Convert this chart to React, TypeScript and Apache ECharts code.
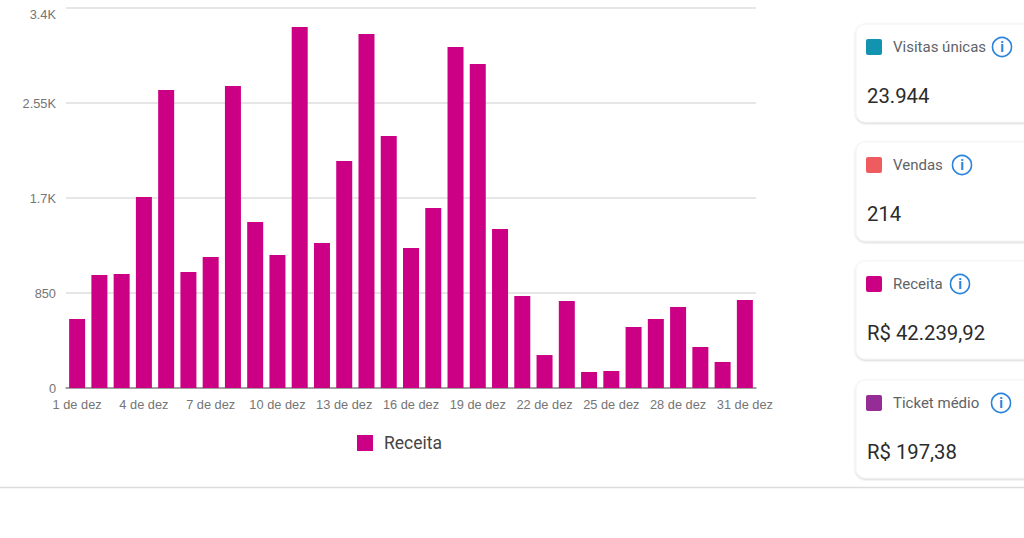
import React, { useEffect, useRef } from "react";
import * as echarts from "echarts";

const days = Array.from({ length: 31 }, (_, i) => `${i + 1} de dez`);
const receita = [617, 1011, 1020, 1709, 2666, 1038, 1172, 2702, 1485, 1190, 3230, 1297, 2031, 3167, 2255, 1252, 1610, 3051, 2899, 1422, 823, 295, 778, 143, 152, 546, 617, 725, 367, 233, 787];
const yTicks = [0, 850, 1700, 2550, 3400];
const yTickLabels = ["0", "850", "1.7K", "2.55K", "3.4K"];
const cardTitles = ["Visitas únicas", "Vendas", "Receita", "Ticket médio"];
const cardValues = ["23.944", "214", "R$ 42.239,92", "R$ 197,38"];
const cardColors = ["#1294b0", "#ef5c5f", "#cc0085", "#962c96"];
const cardTops = [24, 142, 261, 380];
const cardHeights = [98, 99, 98, 98];
const infoX = [1002, 962, 960, 1001];

export default function App() {
  const ref = useRef<HTMLDivElement>(null);
  useEffect(() => {
    const chart = echarts.init(ref.current!, undefined, { renderer: "svg" });
    const graphic: any[] = [
      { type: "line", silent: true, shape: { x1: 0, y1: 487.5, x2: 1024, y2: 487.5 }, style: { stroke: "#dcdcdc", lineWidth: 1.5 } },
    ];
    cardTitles.forEach((title, i) => {
      const top = cardTops[i];
      graphic.push(
        { type: "rect", silent: true, shape: { x: 856, y: top, width: 200, height: cardHeights[i], r: 9 },
          style: { fill: "#fff", stroke: "#f4f4f4", lineWidth: 1, shadowBlur: 2, shadowOffsetY: 1, shadowColor: "rgba(0,0,0,0.2)" } },
        { type: "rect", silent: true, shape: { x: 866, y: top + 15, width: 16, height: 16, r: 2 }, style: { fill: cardColors[i] } },
        { type: "text", silent: true, x: 893, y: top + 23, style: { text: title, font: "15px Roboto, sans-serif", fill: "#5f6368", textVerticalAlign: "middle" } },
        { type: "circle", silent: true, shape: { cx: infoX[i], cy: top + 23, r: 9.5 }, style: { fill: "none", stroke: "#2a84dc", lineWidth: 1.6 } },
        { type: "text", silent: true, x: infoX[i], y: top + 23, style: { text: "i", font: "bold 14px Roboto, sans-serif", fill: "#2a84dc", textAlign: "center", textVerticalAlign: "middle" } },
        { type: "text", silent: true, x: 867, y: top + 72, style: { text: cardValues[i], font: "20.3px Roboto, sans-serif", fill: "#2b2b2b", textVerticalAlign: "middle" } },
      );
    });
    chart.setOption({
      animation: false,
      grid: { left: 66, right: 268, top: 8, bottom: 150, containLabel: false },
      legend: {
        data: ["Receita"], left: 352, top: 429, itemWidth: 16, itemHeight: 16, itemGap: 11,
        icon: "rect",
        textStyle: { fontFamily: "Roboto, sans-serif", fontSize: 17.5, color: "#444", padding: [0, 0, 0, 6] },
      },
      xAxis: {
        type: "category", data: days,
        axisLine: { lineStyle: { color: "#8a8a8a", width: 1.5 } },
        axisTick: { alignWithLabel: true, length: 7, lineStyle: { color: "#8a8a8a" } },
        axisLabel: { interval: 2, margin: 10, fontFamily: "'Liberation Sans', Arial, sans-serif", fontSize: 12.8, color: "#757575" },
      },
      yAxis: {
        type: "value", min: 0, max: 3400, interval: 850,
        axisLine: { show: false }, axisTick: { show: false },
        splitLine: { lineStyle: { color: "#dedede", width: 1.5 } },
        axisLabel: {
          margin: 10, fontFamily: "'Liberation Sans', Arial, sans-serif", fontSize: 12.8, color: "#757575",
          verticalAlignMaxLabel: "top",
          formatter: (v: number) => yTickLabels[yTicks.indexOf(v)] ?? String(v),
        },
      },
      series: [{
        name: "Receita", type: "bar", data: receita, barWidth: 16,
        itemStyle: { color: "#cc0085" },
      }],
      graphic,
    });
    return () => chart.dispose();
  }, []);
  return <div ref={ref} style={{ position: "fixed", left: 0, top: 0, width: 1024, height: 538, background: "#fff" }} />;
}
